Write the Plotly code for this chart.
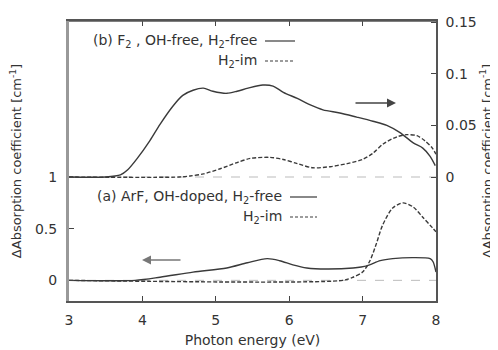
import plotly.graph_objects as go

# ---- data ----
# (b) F2, OH-free, H2-free  (right axis, cm^-1)
f2_x = [3.0, 3.5, 3.7, 3.8, 3.93, 4.10, 4.24, 4.42, 4.55, 4.69, 4.83, 4.96, 5.15, 5.29, 5.44,
        5.64, 5.78, 5.92, 6.11, 6.28, 6.46, 6.69, 6.92, 7.14, 7.33, 7.51, 7.69, 7.82, 7.92, 7.99]
f2_y = [0.0, 0.0, 0.002, 0.007, 0.018, 0.035, 0.051, 0.069, 0.079, 0.084, 0.086, 0.083, 0.081, 0.083, 0.086,
        0.089, 0.088, 0.082, 0.076, 0.070, 0.065, 0.062, 0.058, 0.054, 0.050, 0.043, 0.033, 0.028, 0.020, 0.011]
# (b) H2-im (right axis)
f2h_x = [3.0, 4.5, 4.65, 4.83, 5.06, 5.29, 5.47, 5.74, 5.92, 6.11, 6.32, 6.56, 6.79, 7.0, 7.14,
         7.28, 7.47, 7.60, 7.74, 7.85, 7.95, 8.0]
f2h_y = [0.0, 0.0, 0.001, 0.003, 0.008, 0.014, 0.018, 0.019, 0.017, 0.013, 0.009, 0.010, 0.013, 0.017, 0.023,
         0.032, 0.039, 0.041, 0.040, 0.035, 0.028, 0.022]
# (a) ArF, OH-doped, H2-free (left axis)
arf_x = [3.0, 3.9, 4.24, 4.69, 5.15, 5.43, 5.70, 5.87, 6.05, 6.24, 6.51, 6.87, 7.06, 7.24, 7.41,
         7.69, 7.92, 7.96, 8.0]
arf_y = [0.0, 0.0, 0.03, 0.08, 0.12, 0.17, 0.21, 0.19, 0.15, 0.12, 0.11, 0.12, 0.14, 0.19, 0.21,
         0.22, 0.21, 0.18, 0.08]
# (a) H2-im (left axis)
arfh_x = [3.0, 6.73, 6.87, 7.0, 7.10, 7.19, 7.27, 7.41, 7.55, 7.69, 7.82, 7.95, 8.0]
arfh_y = [0.0, 0.0, 0.03, 0.08, 0.19, 0.36, 0.53, 0.70, 0.75, 0.71, 0.61, 0.51, 0.47]

x_ticks = [3, 4, 5, 6, 7, 8]
left_ticks = [0, 0.5, 1]
right_ticks = [0, 0.05, 0.1, 0.15]

LINE = "#3a3a3a"
FONT = dict(family="DejaVu Sans, Arial, sans-serif", size=14, color="#333")

fig = go.Figure()
fig.add_trace(go.Scatter(x=arf_x, y=arf_y, mode="lines", yaxis="y",
                         line=dict(color=LINE, width=1.4, shape="spline", smoothing=0.8)))
fig.add_trace(go.Scatter(x=arfh_x, y=arfh_y, mode="lines", yaxis="y",
                         line=dict(color=LINE, width=1.4, dash="4px,2px", shape="spline", smoothing=0.8)))
fig.add_trace(go.Scatter(x=f2_x, y=f2_y, mode="lines", yaxis="y2",
                         line=dict(color=LINE, width=1.4, shape="spline", smoothing=0.8)))
fig.add_trace(go.Scatter(x=f2h_x, y=f2h_y, mode="lines", yaxis="y2",
                         line=dict(color=LINE, width=1.4, dash="4px,2px", shape="spline", smoothing=0.8)))

# The page adds an 8px body margin; target plot area in window pixels:
OFF = 8
L, R, T, B = 69, 436, 21, 301
W, H = 498 - OFF, 350 - OFF
def px(x):
    return (x - L) / (R - L)
def py(y):
    return (B - y) / (B - T)

shapes = [
    dict(type="line", xref="paper", yref="y", x0=0, x1=1, y0=0, y1=0,
         line=dict(color="#bbbbbb", width=1, dash="dash"), layer="below"),
    dict(type="line", xref="paper", yref="y", x0=0, x1=1, y0=1, y1=1,
         line=dict(color="#bbbbbb", width=1, dash="dash"), layer="below"),
    # top frame line
    dict(type="line", xref="paper", yref="paper", x0=0, x1=1, y0=1, y1=1,
         line=dict(color="#555", width=1.5)),
    # legend samples
    dict(type="line", xref="paper", yref="paper", x0=px(265), x1=px(295), y0=py(41), y1=py(41),
         line=dict(color=LINE, width=1.2)),
    dict(type="line", xref="paper", yref="paper", x0=px(265), x1=px(295), y0=py(61), y1=py(61),
         line=dict(color=LINE, width=1.2, dash="3px,2px")),
    dict(type="line", xref="paper", yref="paper", x0=px(290), x1=px(317), y0=py(197), y1=py(197),
         line=dict(color=LINE, width=1.2)),
    dict(type="line", xref="paper", yref="paper", x0=px(290), x1=px(317), y0=py(217), y1=py(217),
         line=dict(color=LINE, width=1.2, dash="3px,2px")),
]

ANN = dict(family="DejaVu Sans, Arial, sans-serif", size=14, color="#333")
annotations = [
    dict(xref="paper", yref="paper", x=px(259), y=py(41), xanchor="right", yanchor="middle",
         text="(b) F<sub>2</sub> , OH-free, H<sub>2</sub>-free", showarrow=False, font=ANN),
    dict(xref="paper", yref="paper", x=px(259), y=py(61), xanchor="right", yanchor="middle",
         text="H<sub>2</sub>-im", showarrow=False, font=ANN),
    dict(xref="paper", yref="paper", x=px(284), y=py(197), xanchor="right", yanchor="middle",
         text="(a) ArF, OH-doped, H<sub>2</sub>-free", showarrow=False, font=ANN),
    dict(xref="paper", yref="paper", x=px(284), y=py(217), xanchor="right", yanchor="middle",
         text="H<sub>2</sub>-im", showarrow=False, font=ANN),
    # arrows
    dict(xref="paper", yref="paper", x=px(396), y=py(103), ax=-42, ay=0, text="",
         showarrow=True, arrowhead=2, arrowsize=1.2, arrowwidth=1.5, arrowcolor="#444"),
    dict(xref="paper", yref="paper", x=px(142), y=py(260), ax=40, ay=0, text="",
         showarrow=True, arrowhead=2, arrowsize=1.2, arrowwidth=1.5, arrowcolor="#777"),
]

fig.update_layout(
    width=W, height=H,
    margin=dict(l=L - OFF, r=498 - R, t=T - OFF, b=350 - B, autoexpand=False),
    paper_bgcolor="white", plot_bgcolor="white",
    showlegend=False,
    font=FONT,
    shapes=shapes,
    annotations=annotations,
    xaxis=dict(range=[3, 8], tickvals=x_ticks, ticks="inside", ticklen=5, tickcolor="#444",
               showline=True, linecolor="#555", linewidth=1.5, mirror="ticks",
               showgrid=False, zeroline=False, automargin=False, ticklabelstandoff=5,
               title=dict(text="Photon energy (eV)", font=dict(size=14), standoff=9),
               tickfont=dict(size=14)),
    yaxis=dict(range=[-0.2, 2.51], tickvals=left_ticks, ticktext=["0", "0.5", "1"],
               ticks="inside", ticklen=5, tickcolor="#444",
               showline=True, linecolor="#999", linewidth=3,
               showgrid=False, zeroline=False, automargin=False, ticklabelstandoff=6,
               title=dict(text="ΔAbsorption coefficient [cm<sup>-1</sup>]", font=dict(size=13), standoff=14),
               tickfont=dict(size=14)),
    yaxis2=dict(range=[-0.12, 0.151], tickvals=right_ticks, ticktext=["0", "0.05", "0.1", "0.15"],
                overlaying="y", side="right",
                ticks="inside", ticklen=5, tickcolor="#444",
                showline=True, linecolor="#555", linewidth=1.5,
                showgrid=False, zeroline=False, automargin=False, ticklabelstandoff=5,
                title=dict(text="ΔAbsorption coefficient [cm<sup>-1</sup>]", font=dict(size=13), standoff=7),
                tickfont=dict(size=14)),
)

fig.write_html("out.html")
